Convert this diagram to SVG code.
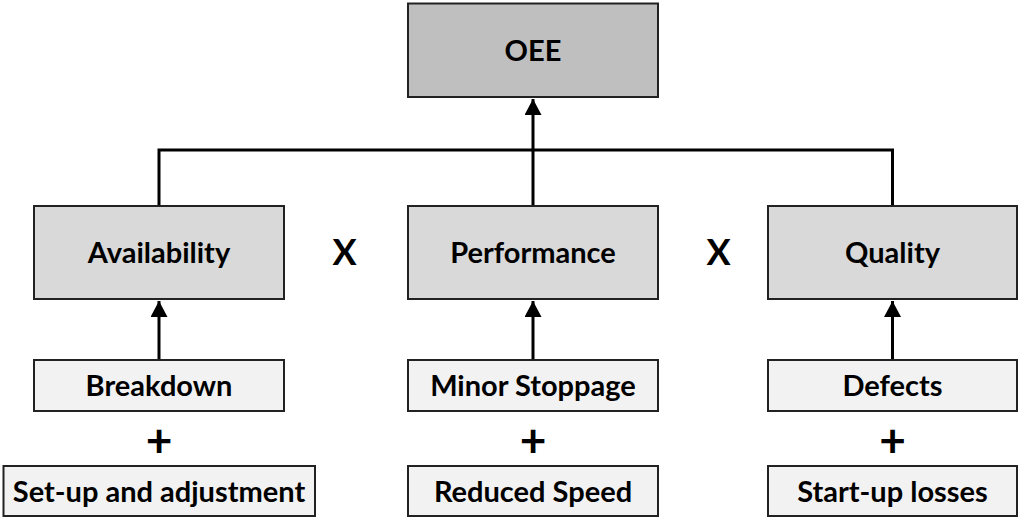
<svg xmlns="http://www.w3.org/2000/svg" width="1018" height="518" viewBox="0 0 1018 518">
<defs>
<marker id="arr" markerUnits="userSpaceOnUse" markerWidth="18" markerHeight="17" refX="16" refY="8.5" orient="auto">
<path d="M0,0 L16,8.5 L0,17 Z" fill="#000"/>
</marker>
<style>
.box{stroke:#222;stroke-width:2}
.top{fill:#bfbfbf}
.mid{fill:#d9d9d9}
.low{fill:#f2f2f2}
.lbl{font-family:Lato,"Liberation Sans",sans-serif;font-weight:bold;font-size:29px;fill:#000;text-anchor:middle}
.op{font-family:Lato,"Liberation Sans",sans-serif;font-weight:bold;font-size:36px;fill:#000;text-anchor:middle}
.pl{font-family:Lato,"Liberation Sans",sans-serif;font-weight:bold;font-size:46px;fill:#000;text-anchor:middle}
.con{fill:none;stroke:#000;stroke-width:3}
</style>
</defs>
<rect width="1018" height="518" fill="#fff"/>
<g id="connectors">
<polyline class="con" points="159,206 159,150 892.5,150 892.5,206"/>
<line class="con" x1="533" y1="206" x2="533" y2="99" marker-end="url(#arr)"/>
<line class="con" x1="159" y1="360" x2="159" y2="301" marker-end="url(#arr)"/>
<line class="con" x1="533" y1="360" x2="533" y2="301" marker-end="url(#arr)"/>
<line class="con" x1="892.5" y1="360" x2="892.5" y2="301" marker-end="url(#arr)"/>
</g>
<g id="oee"><rect class="box top" x="408" y="3.5" width="250" height="93.5"/><text class="lbl" x="533" y="60.5">OEE</text></g>
<g id="availability"><rect class="box mid" x="34" y="206" width="250" height="93"/><text class="lbl" x="159" y="263">Availability</text></g>
<g id="performance"><rect class="box mid" x="408" y="206" width="250" height="93"/><text class="lbl" x="533" y="263">Performance</text></g>
<g id="quality"><rect class="box mid" x="768" y="206" width="249" height="93"/><text class="lbl" x="892.5" y="263">Quality</text></g>
<g id="x1"><text class="op" x="344.5" y="265">X</text></g>
<g id="x2"><text class="op" x="718.5" y="265">X</text></g>
<g id="breakdown"><rect class="box low" x="34" y="360" width="250" height="51"/><text class="lbl" x="159" y="396">Breakdown</text></g>
<g id="minor"><rect class="box low" x="408" y="360" width="250" height="51"/><text class="lbl" x="533" y="396">Minor Stoppage</text></g>
<g id="defects"><rect class="box low" x="768" y="360" width="249" height="51"/><text class="lbl" x="892.5" y="396">Defects</text></g>
<g id="plus1"><text class="pl" x="159" y="457">+</text></g>
<g id="plus2"><text class="pl" x="533" y="457">+</text></g>
<g id="plus3"><text class="pl" x="892.5" y="457">+</text></g>
<g id="setup"><rect class="box low" x="3.5" y="466" width="311.5" height="50"/><text class="lbl" x="159" y="502">Set-up and adjustment</text></g>
<g id="reduced"><rect class="box low" x="408" y="466" width="250" height="50"/><text class="lbl" x="533" y="502">Reduced Speed</text></g>
<g id="startup"><rect class="box low" x="768" y="466" width="249" height="50"/><text class="lbl" x="892.5" y="502">Start-up losses</text></g>
</svg>
